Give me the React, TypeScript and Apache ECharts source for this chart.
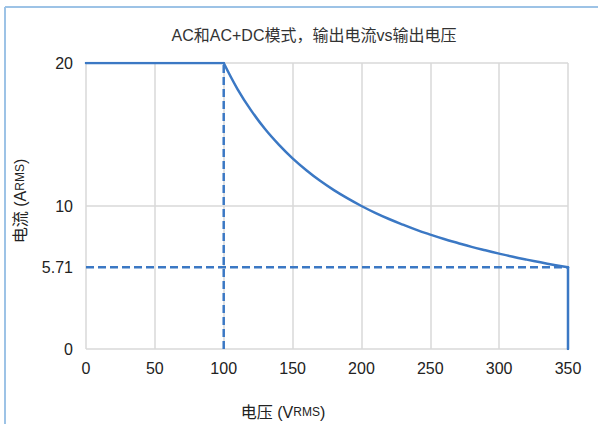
import React, { useEffect, useRef } from "react";
import * as echarts from "echarts";

const titleText = "AC和AC+DC模式，输出电流vs输出电压";
const xTicks = [0, 50, 100, 150, 200, 250, 300, 350];
const yLabelValues = [0, 5.71, 10, 20];
// Output current (V, A)
const flatV = [0, 100];
const flatA = [20, 20];
const curveV = [100, 110, 120, 130, 140, 150, 160, 170, 180, 190, 200, 210, 220, 230, 240, 250, 260, 270, 280, 290, 300, 310, 320, 330, 340, 350];
const curveA = [20, 18.18, 16.67, 15.38, 14.29, 13.33, 12.5, 11.76, 11.11, 10.53, 10, 9.52, 9.09, 8.7, 8.33, 8.0, 7.69, 7.41, 7.14, 6.9, 6.67, 6.45, 6.25, 6.06, 5.88, 5.71];
const dropV = [350, 350];
const dropA = [5.71, 0];
const kneeV = [100, 100];
const kneeA = [0, 20];
const minLineV = [0, 350];
const minLineA = [5.71, 5.71];

const BLUE = "#3b78c4";
const FONT = "'Liberation Sans', 'Noto Sans CJK SC', Arial, sans-serif";

export default function App() {
  const ref = useRef<HTMLDivElement>(null);
  useEffect(() => {
    document.body.style.margin = "0";
    const chart = echarts.init(ref.current!, null, { renderer: "svg" });
    const zip = (a: number[], b: number[]) => a.map((v, i) => [v, b[i]]);
    const solid = (data: number[][], smooth: boolean) => ({
      type: "line",
      data,
      showSymbol: false,
      smooth: smooth ? 0.4 : false,
      lineStyle: { color: BLUE, width: 2.5, cap: "round", join: "round" },
      z: 4,
    });
    chart.setOption({
      animation: false,
      backgroundColor: "#ffffff",
      textStyle: { fontFamily: FONT },
      title: {
        text: titleText,
        left: 309,
        textAlign: "center",
        top: 22,
        textStyle: { fontSize: 16, fontWeight: "normal", color: "#333", fontFamily: FONT },
      },
      grid: { left: 86, right: 30, top: 63, bottom: 75, containLabel: false },
      xAxis: {
        type: "value",
        min: 0,
        max: 350,
        interval: 50,
        axisLine: { show: false },
        axisTick: { show: false },
        axisLabel: { fontSize: 16, color: "#222", margin: 11, fontFamily: FONT, customValues: xTicks },
        splitLine: { show: true, lineStyle: { color: "#d9d9d9", width: 1.5 } },
      },
      yAxis: {
        type: "value",
        min: 0,
        max: 20,
        interval: 10,
        axisLine: { show: false },
        axisTick: { show: false },
        axisLabel: {
          fontSize: 16, color: "#222", margin: 13, fontFamily: FONT,
          customValues: yLabelValues,
          formatter: (v: number) => (Math.abs(v - 5.71) < 0.001 ? "5.71" : String(v)),
        },
        splitLine: { show: true, lineStyle: { color: "#d9d9d9", width: 1.5 } },
      },
      graphic: [
        { type: "line", shape: { x1: 5, y1: 7, x2: 598, y2: 7 }, style: { stroke: "#9dc3e6", lineWidth: 2 } },
        { type: "line", shape: { x1: 5, y1: 7, x2: 5, y2: 424 }, style: { stroke: "#9dc3e6", lineWidth: 2 } },
        {
          type: "text",
          x: 283,
          y: 412,
          style: {
            text: "电压 (V{s|RMS})",
            fontSize: 16,
            fill: "#222",
            fontFamily: FONT,
            align: "center",
            verticalAlign: "middle",
            rich: { s: { fontSize: 12, fill: "#222", fontFamily: FONT } },
          },
        },
        {
          type: "text",
          x: 20,
          y: 201,
          rotation: Math.PI / 2,
          style: {
            text: "电流 (A{s|RMS})",
            fontSize: 16,
            fill: "#222",
            fontFamily: FONT,
            align: "center",
            verticalAlign: "middle",
            rich: { s: { fontSize: 12, fill: "#222", fontFamily: FONT } },
          },
        },
      ],
      series: [
        {
          type: "line",
          data: zip(kneeV, kneeA),
          showSymbol: false,
          lineStyle: { color: BLUE, width: 2.5, type: [8, 4] },
          z: 3,
        },
        {
          type: "line",
          data: zip(minLineV, minLineA),
          showSymbol: false,
          lineStyle: { color: BLUE, width: 2.5, type: [8, 4] },
          z: 3,
        },
        solid(zip(flatV, flatA), false),
        solid(zip(curveV, curveA), true),
        solid(zip(dropV, dropA), false),
      ],
    });
    return () => chart.dispose();
  }, []);
  return <div ref={ref} style={{ width: 598, height: 424 }} />;
}
